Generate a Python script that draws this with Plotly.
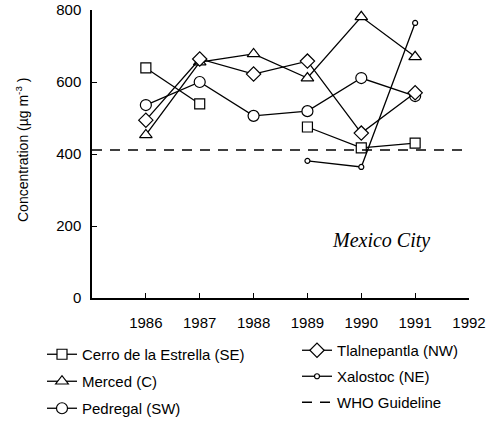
import plotly.graph_objects as go

years = [1986, 1987, 1988, 1989, 1990, 1991]
cerro = [639, 539, None, 475, 417, 430]
merced = [453, 655, 678, 611, 781, 670]
pedregal = [536, 600, 506, 519, 611, 561]
tlalnepantla = [494, 664, 622, 658, 458, 570]
xalostoc_years = [1989, 1990, 1991]
xalostoc = [381, 364, 764]
who_x = [1985, 1992]
who_y = [411, 411]

xticks = [1986, 1987, 1988, 1989, 1990, 1991, 1992]
yticks = [0, 200, 400, 600, 800]

FONT = "Liberation Sans, Arial, sans-serif"
W, H = 486, 425
L, R, T, B = 92, 17, 10, 127
PW, PH = W - L - R, H - T - B

fig = go.Figure()

def mk(symbol, size):
    return dict(symbol=symbol, size=size, color="white", line=dict(color="black", width=1.2))

fig.add_trace(go.Scatter(x=years, y=cerro, name="Cerro de la Estrella (SE)", mode="lines+markers",
                         line=dict(color="black", width=1.3), marker=mk("square", 10),
                         connectgaps=False, legend="legend", legendgroup="a"))
fig.add_trace(go.Scatter(x=years, y=merced, name="Merced (C)", mode="lines+markers",
                         line=dict(color="black", width=1.3), marker=mk("triangle-up", 11),
                         legend="legend", legendgroup="b"))
fig.add_trace(go.Scatter(x=years, y=pedregal, name="Pedregal (SW)", mode="lines+markers",
                         line=dict(color="black", width=1.3), marker=mk("circle", 11),
                         legend="legend", legendgroup="c"))
fig.add_trace(go.Scatter(x=years, y=tlalnepantla, name="Tlalnepantla (NW)", mode="lines+markers",
                         line=dict(color="black", width=1.3), marker=mk("diamond", 11),
                         legend="legend2", legendgroup="d"))
fig.add_trace(go.Scatter(x=xalostoc_years, y=xalostoc, name="Xalostoc (NE)", mode="lines+markers",
                         line=dict(color="black", width=1.3), marker=mk("circle", 5),
                         legend="legend2", legendgroup="e"))
fig.add_trace(go.Scatter(x=who_x, y=who_y, name="WHO Guideline", mode="lines",
                         line=dict(color="black", width=1.5, dash="10px,8px"),
                         legend="legend2", legendgroup="f", cliponaxis=False))

fig.add_annotation(x=1990.37, y=161, text="<i>Mexico City</i>", showarrow=False,
                   font=dict(family="Liberation Serif, Times New Roman, serif", size=20, color="black"),
                   xanchor="center", yanchor="middle")

# y-axis title as rotated text
fig.add_annotation(xref="paper", yref="paper", x=(22 - L) / PW, y=(H - B - 150) / PH,
                   text="Concentration (µg m<sup>-3</sup> )", textangle=-90, showarrow=False,
                   font=dict(family=FONT, size=14, color="black"),
                   xanchor="center", yanchor="middle")

legend_common = dict(font=dict(family=FONT, size=15, color="black"), bgcolor="rgba(0,0,0,0)",
                     traceorder="grouped", orientation="v",
                     xanchor="left", yanchor="top", itemwidth=30,
                     xref="container", yref="container")

fig.update_layout(
    width=W, height=H,
    margin=dict(l=L, r=R, t=T, b=B, autoexpand=False),
    paper_bgcolor="white", plot_bgcolor="white",
    showlegend=True,
    legend=dict(x=42 / W, y=1 - 338 / H, tracegroupgap=4.5, **legend_common),
    legend2=dict(x=297 / W, y=1 - 334 / H, tracegroupgap=3.5, **legend_common),
    xaxis=dict(range=[1985, 1992], tickvals=xticks, ticktext=[str(v) for v in xticks],
               ticks="inside", ticklen=5, tickcolor="black", tickwidth=1.2,
               showline=True, linecolor="black", linewidth=1.5, showgrid=False, zeroline=False,
               tickfont=dict(family=FONT, size=15, color="black"), ticklabelstandoff=10),
    yaxis=dict(range=[0, 800], tickvals=yticks, ticks="inside", ticklen=5, tickcolor="black",
               tickwidth=1.2, showline=True, linecolor="black", linewidth=1.5, showgrid=False,
               zeroline=False, tickfont=dict(family=FONT, size=15, color="black"),
               ticklabelstandoff=6),
)

fig.write_html("out.html")
